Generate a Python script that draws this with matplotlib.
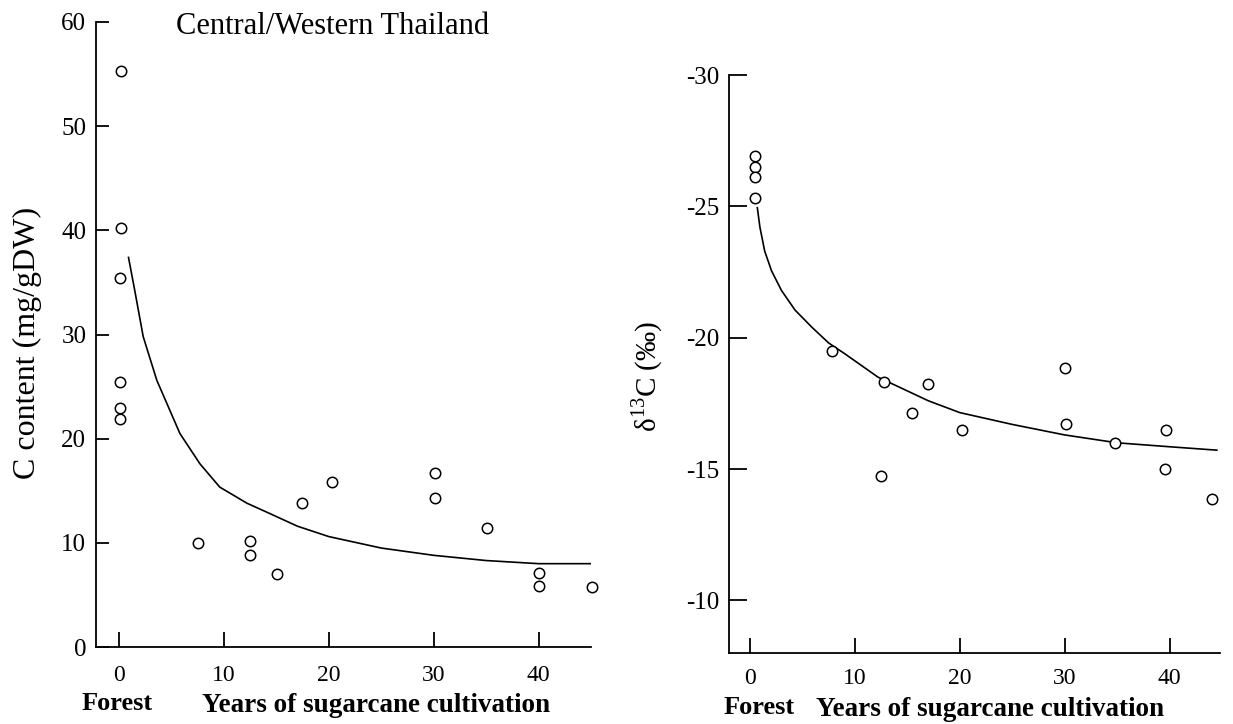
import matplotlib
matplotlib.use('Agg')
import matplotlib.pyplot as plt

# --- fonts (scanned Times-like look) ---
plt.rcParams['font.family'] = ['Liberation Serif', 'DejaVu Serif']
plt.rcParams['mathtext.fontset'] = 'custom'
plt.rcParams['mathtext.rm'] = 'Liberation Serif'
plt.rcParams['axes.unicode_minus'] = False

# --- data: C content (left panel) ---
c_years = [0.2, 0.2, 0.1, 0.1, 0.1, 0.1, 7.5, 12.5, 12.5, 15.1, 17.4, 20.3, 30.1, 30.1, 35.1, 40, 40, 45.1]
c_values = [55.3, 40.2, 35.4, 25.4, 22.9, 21.9, 10.0, 10.2, 8.8, 7.0, 13.8, 15.8, 16.7, 14.3, 11.4, 7.1, 5.9, 5.75]
c_fit_x = [0.9, 1.5, 2.3, 3.6, 5.8, 7.7, 9.6, 12.2, 14.4, 17, 20, 25, 30, 35, 40, 45]
c_fit_y = [37.4, 34.2, 29.8, 25.6, 20.5, 17.6, 15.35, 13.8, 12.8, 11.6, 10.6, 9.5, 8.8, 8.3, 8.0, 8.0]

# --- data: delta 13C (right panel) ---
d_years = [0.5, 0.5, 0.5, 0.5, 7.8, 12.8, 12.5, 15.4, 17.0, 20.2, 30.0, 30.1, 34.8, 39.7, 39.6, 44.0]
d_values = [-26.9, -26.5, -26.1, -25.3, -19.5, -18.3, -14.75, -17.15, -18.25, -16.5, -18.85, -16.7, -16.0, -16.5, -15.0, -13.85]
d_fit_x = [0.7, 0.95, 1.4, 2.05, 3.0, 4.3, 5.9, 7.5, 9.0, 12.2, 17, 20, 25, 30, 35, 40, 44.5]
d_fit_y = [-24.95, -24.2, -23.3, -22.55, -21.8, -21.05, -20.4, -19.8, -19.4, -18.5, -17.6, -17.15,
           -16.7, -16.3, -16.0, -15.85, -15.72]

W, H = 1233, 724
fig = plt.figure(figsize=(W / 100, H / 100), dpi=100)


def fx(px):
    return px / W


def fy(py):
    return 1 - py / H


def style_axes(ax, ytick_len, xpad):
    for s in ['top', 'right']:
        ax.spines[s].set_visible(False)
    for s in ['left', 'bottom']:
        ax.spines[s].set_linewidth(1.3)
    ax.tick_params(axis='y', direction='in', length=ytick_len, width=1.3, labelsize=18, pad=7)
    ax.tick_params(axis='x', direction='in', length=11, width=1.3, labelsize=17, pad=xpad)


# left panel
ax1 = fig.add_axes([fx(96), fy(647), fx(591 - 96), (647 - 22) / H])
ax1.plot(c_fit_x, c_fit_y, color='black', lw=1.2)
ax1.plot(c_years, c_values, 'o', mfc='white', mec='black', ms=7.5, mew=1.1, clip_on=False)
ax1.set_xlim(-2.2, 45)
ax1.set_ylim(0, 60)
ax1.set_xticks([0, 10, 20, 30, 40])
ax1.set_yticks([0, 10, 20, 30, 40, 50, 60])
style_axes(ax1, 9, 13)

# right panel
ax2 = fig.add_axes([fx(729), fy(653), fx(1220 - 729), (653 - 75) / H])
ax2.plot(d_fit_x, d_fit_y, color='black', lw=1.2)
ax2.plot(d_years, d_values, 'o', mfc='white', mec='black', ms=7.5, mew=1.1, clip_on=False)
ax2.set_xlim(-2.0, 44.8)
ax2.set_ylim(-8, -30)
ax2.set_xticks([0, 10, 20, 30, 40])
ax2.set_yticks([-30, -25, -20, -15, -10])
style_axes(ax2, 13, 11)

# texts
fig.text(fx(333), fy(26), 'Central/Western Thailand', fontsize=22, ha='center', va='center')
fig.text(fx(27), fy(343), 'C content (mg/gDW)', fontsize=23, rotation=90, ha='center', va='center')
fig.text(fx(647), fy(376), 'δ$^{13}$C (‰)', fontsize=21, rotation=90, ha='center', va='center')

fig.text(fx(117), fy(703), 'Forest', fontsize=19, fontweight='bold', ha='center', va='center')
fig.text(fx(376), fy(705), 'Years of sugarcane cultivation', fontsize=19.5, fontweight='bold',
         ha='center', va='center')
fig.text(fx(759), fy(708), 'Forest', fontsize=19, fontweight='bold', ha='center', va='center')
fig.text(fx(990), fy(710), 'Years of sugarcane cultivation', fontsize=19.5, fontweight='bold',
         ha='center', va='center')

fig.savefig('out.png', dpi=100)
